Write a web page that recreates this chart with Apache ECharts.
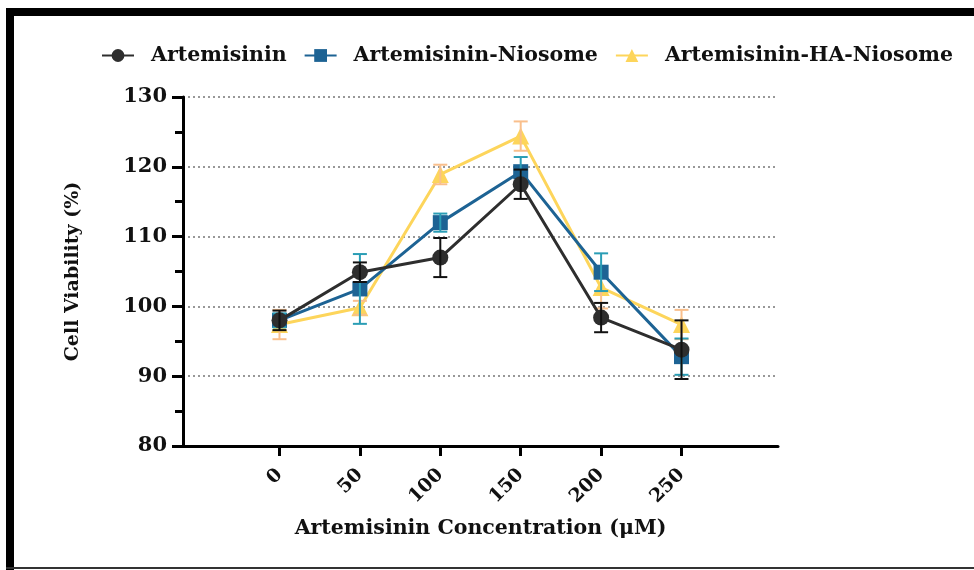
<!DOCTYPE html>
<html><head><meta charset="utf-8">
<script src="https://cdn.jsdelivr.net/npm/echarts@6/dist/echarts.min.js"></script>
<style>html,body{margin:0;padding:0;background:#fff}#c{width:974px;height:570px}</style>
</head><body><div id="c"></div>
<script>
const concentrations = [0, 50, 100, 150, 200, 250];
const xTickLabels = ['0', '50', '100', '150', '200', '250'];
const artemisininMean = [98.0, 104.9, 107.0, 117.5, 98.4, 93.8];
const artemisininSD = [1.4, 1.4, 2.8, 2.1, 2.1, 4.2];
const niosomeMean = [98.0, 102.5, 112.0, 119.3, 104.9, 92.8];
const niosomeSD = [1.0, 5.0, 1.3, 2.1, 2.7, 2.6];
const haNiosomeMean = [97.4, 99.8, 118.9, 124.4, 102.7, 97.4];
const haNiosomeSD = [2.1, 1.0, 1.4, 2.1, 3.0, 2.1];
const seriesNames = ['Artemisinin', 'Artemisinin-Niosome', 'Artemisinin-HA-Niosome'];

const FONT = 'DejaVu Serif';
const chart = echarts.init(document.getElementById('c'), null, {renderer: 'canvas'});

function lineSeries(name, means, color, symbol, size, z) {
  return {
    type: 'line', name: name, z: z,
    data: concentrations.map((c, i) => [c, means[i]]),
    symbol: symbol, symbolSize: size,
    itemStyle: {color: color},
    lineStyle: {color: color, width: 3},
    emphasis: {disabled: true},
    animation: false
  };
}
function errSeries(name, means, sds, color, z) {
  return {
    type: 'custom', name: name + ' SD', z: z,
    data: concentrations.map((c, i) => [c, means[i], sds[i]]),
    encode: {x: 0, y: 1},
    animation: false,
    renderItem: function (params, api) {
      const x = api.value(0), m = api.value(1), s = api.value(2);
      const hi = api.coord([x, m + s]), lo = api.coord([x, m - s]);
      const w = 7;
      const style = {stroke: color, lineWidth: 2, fill: null};
      return {type: 'group', children: [
        {type: 'line', shape: {x1: hi[0], y1: hi[1], x2: lo[0], y2: lo[1]}, style: style},
        {type: 'line', shape: {x1: hi[0] - w, y1: hi[1], x2: hi[0] + w, y2: hi[1]}, style: style},
        {type: 'line', shape: {x1: lo[0] - w, y1: lo[1], x2: lo[0] + w, y2: lo[1]}, style: style}
      ]};
    }
  };
}

const option = {
  backgroundColor: '#fff',
  animation: false,
  graphic: [
    {type: 'rect', shape: {x: 6, y: 8, width: 968, height: 8}, style: {fill: '#000'}},
    {type: 'rect', shape: {x: 6, y: 8, width: 8, height: 562}, style: {fill: '#000'}},
    {type: 'rect', shape: {x: 6, y: 567, width: 968, height: 2}, style: {fill: '#333'}}
  ],
  legend: {
    data: seriesNames,
    top: 43, left: 99, width: 900, padding: 2,
    itemWidth: 32, itemHeight: 16, itemGap: 17,
    textStyle: {fontFamily: FONT, fontWeight: 'bold', fontSize: 20.5, color: '#111', padding: [0, 0, 0, 12]}
  },
  grid: {left: 183, right: 196, top: 97, bottom: 124},
  xAxis: {
    type: 'value', min: -60, max: 310,
    name: 'Artemisinin Concentration (μM)', nameLocation: 'middle', nameGap: 72,
    nameTextStyle: {fontFamily: FONT, fontWeight: 'bold', fontSize: 20.5, color: '#111'},
    axisLine: {show: true, onZero: false, lineStyle: {color: '#000', width: 3}},
    axisTick: {show: true, length: 10, lineStyle: {color: '#000', width: 3}, customValues: concentrations},
    axisLabel: {
      customValues: concentrations, rotate: 45, margin: 26,
      formatter: v => xTickLabels[concentrations.indexOf(v)],
      fontFamily: FONT, fontWeight: 'bold', fontSize: 19, color: '#111'
    },
    splitLine: {show: false}
  },
  yAxis: {
    type: 'value', min: 80, max: 130, interval: 10,
    name: 'Cell Viability (%)', nameLocation: 'middle', nameGap: 100, nameRotate: 90,
    nameTextStyle: {fontFamily: FONT, fontWeight: 'bold', fontSize: 19, color: '#111'},
    axisLine: {show: true, onZero: false, lineStyle: {color: '#000', width: 3}},
    axisTick: {show: true, length: 11, lineStyle: {color: '#000', width: 3}},
    minorTick: {show: true, splitNumber: 2, length: 8, lineStyle: {color: '#000', width: 3}},
    axisLabel: {margin: 16, fontFamily: FONT, fontWeight: 'bold', fontSize: 21, color: '#111'},
    splitLine: {show: true, lineStyle: {color: '#777', type: [2, 3], width: 1.5}}
  },
  series: [
    lineSeries(seriesNames[2], haNiosomeMean, '#fdd55b', 'triangle', 17, 2),
    errSeries(seriesNames[2], haNiosomeMean, haNiosomeSD, '#f9bf8c', 3),
    lineSeries(seriesNames[1], niosomeMean, '#1d6394', 'rect', 15, 4),
    errSeries(seriesNames[1], niosomeMean, niosomeSD, '#2a9db5', 5),
    lineSeries(seriesNames[0], artemisininMean, '#2e2e2e', 'circle', 16, 6),
    errSeries(seriesNames[0], artemisininMean, artemisininSD, '#111', 7)
  ]
};
chart.setOption(option);
</script>
</body></html>
